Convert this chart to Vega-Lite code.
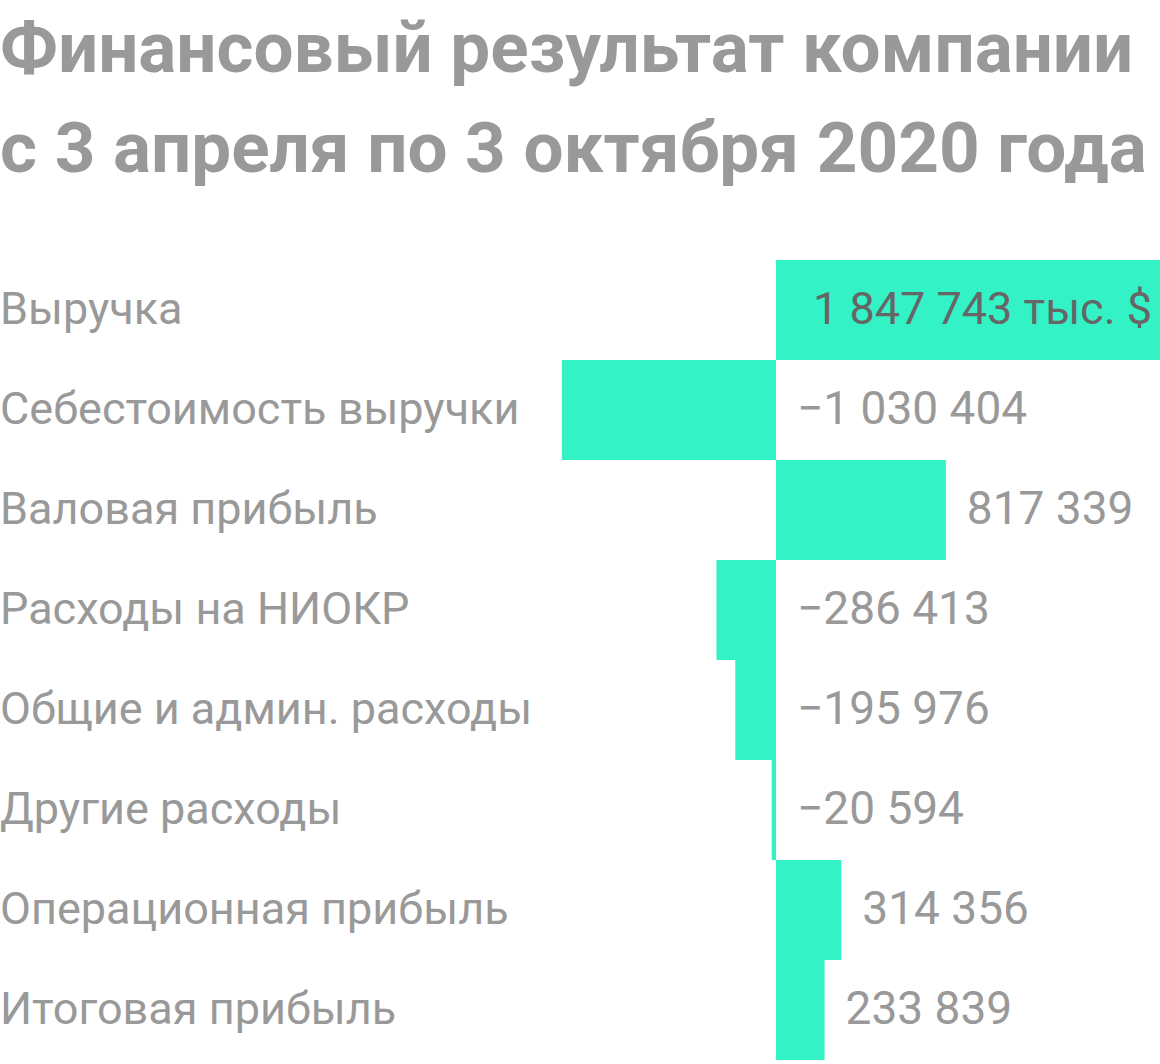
{
  "$schema": "https://vega.github.io/schema/vega-lite/v6.json",
  "width": 1160,
  "height": 800,
  "autosize": "none",
  "padding": {"top": 260, "left": 0, "right": 0, "bottom": 4},
  "background": "white",
  "title": {
    "text": ["Финансовый результат компании", "с 3 апреля по 3 октября 2020 года"],
    "anchor": "start",
    "frame": "group",
    "font": "Roboto",
    "fontSize": 71,
    "fontWeight": 700,
    "color": "#999999",
    "lineHeight": 100,
    "offset": 73
  },
  "data": {
    "values": [
      {"item": "Выручка", "value": 1847743, "label": "1 847 743 тыс. $"},
      {"item": "Себестоимость выручки", "value": -1030404, "label": "−1 030 404"},
      {"item": "Валовая прибыль", "value": 817339, "label": "817 339"},
      {"item": "Расходы на НИОКР", "value": -286413, "label": "−286 413"},
      {"item": "Общие и админ. расходы", "value": -195976, "label": "−195 976"},
      {"item": "Другие расходы", "value": -20594, "label": "−20 594"},
      {"item": "Операционная прибыль", "value": 314356, "label": "314 356"},
      {"item": "Итоговая прибыль", "value": 233839, "label": "233 839"}
    ]
  },
  "encoding": {
    "y": {
      "field": "item",
      "type": "nominal",
      "sort": null,
      "axis": null,
      "scale": {"paddingInner": 0, "paddingOuter": 0}
    }
  },
  "layer": [
    {
      "mark": {"type": "bar", "color": "#33f2c6"},
      "encoding": {
        "x": {
          "field": "value",
          "type": "quantitative",
          "axis": null,
          "scale": {"domain": [-3734000, 1847743], "nice": false, "zero": false}
        },
        "x2": {"datum": 0}
      }
    },
    {
      "mark": {"type": "text", "align": "left", "baseline": "middle", "font": "Roboto", "fontSize": 45, "color": "#999999"},
      "encoding": {
        "x": {"datum": -3734000, "type": "quantitative"},
        "text": {"field": "item"}
      }
    },
    {
      "transform": [{"filter": "datum.value < 0"}],
      "mark": {"type": "text", "align": "left", "baseline": "middle", "font": "Roboto", "fontSize": 46, "color": "#999999", "dx": 21},
      "encoding": {
        "x": {"datum": 0, "type": "quantitative"},
        "text": {"field": "label"}
      }
    },
    {
      "transform": [{"filter": "datum.value > 0 && datum.item != 'Выручка'"}],
      "mark": {"type": "text", "align": "left", "baseline": "middle", "font": "Roboto", "fontSize": 46, "color": "#999999", "dx": 21},
      "encoding": {
        "x": {"field": "value", "type": "quantitative"},
        "text": {"field": "label"}
      }
    },
    {
      "transform": [{"filter": "datum.item == 'Выручка'"}],
      "mark": {"type": "text", "align": "right", "baseline": "middle", "font": "Roboto", "fontSize": 45, "color": "#666666", "dx": -8},
      "encoding": {
        "x": {"field": "value", "type": "quantitative"},
        "text": {"field": "label"}
      }
    }
  ],
  "config": {"view": {"stroke": null}}
}
